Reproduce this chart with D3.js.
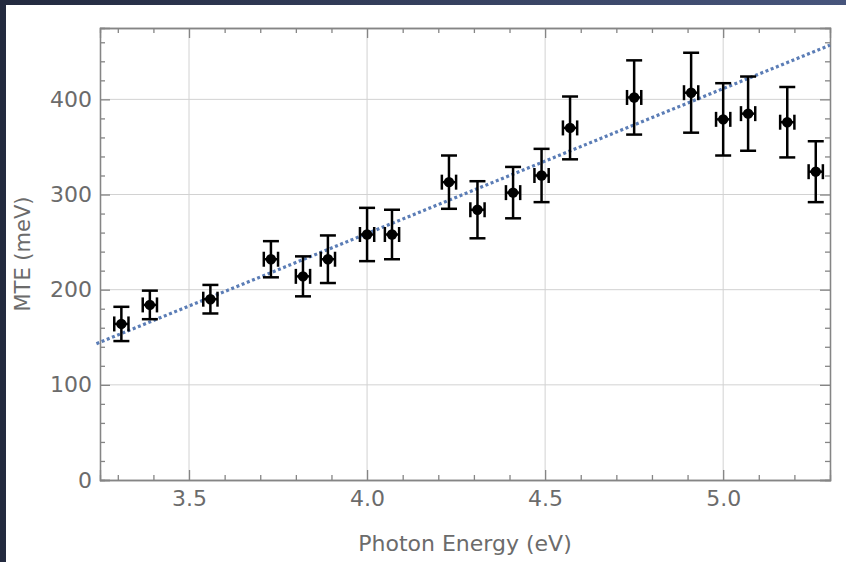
<!DOCTYPE html>
<html>
<head>
<meta charset="utf-8">
<script src="https://cdn.jsdelivr.net/npm/d3@7"></script>
<style>
    html, body { margin: 0; padding: 0; }
    body {
        width: 846px;
        height: 562px;
        overflow: hidden;
        background: linear-gradient(to right, #232a3f, #47557c);
        position: relative;
    }
    #panel {
        position: absolute;
        left: 6px;
        top: 5px;
        right: 0;
        bottom: 0;
        background: #ffffff;
    }
    #mte-chart {
        position: absolute;
        left: 0;
        top: 0;
    }
</style>
</head>
<body>
<div id="panel"></div>
<div id="mte-chart"></div>
<script>
// photon energy (eV), measured MTE (meV) and error bars
const photonEnergy = [3.31, 3.39, 3.56, 3.73, 3.82, 3.89, 4.00, 4.07, 4.23, 4.31, 4.41, 4.49, 4.57, 4.75, 4.91, 5.00, 5.07, 5.18, 5.26];
const mte = [164, 184, 190, 232, 214, 232, 258, 258, 313, 284, 302, 320, 370, 402, 407, 379, 385, 376, 324];
const mteError = [18, 15, 15, 19, 21, 25, 28, 26, 28, 30, 27, 28, 33, 39, 42, 38, 39, 37, 32];
const energyError = [0.02, 0.02, 0.02, 0.02, 0.02, 0.02, 0.02, 0.02, 0.02, 0.02, 0.02, 0.02, 0.02, 0.02, 0.02, 0.02, 0.02, 0.02, 0.02];

// linear fit MTE = slope * E + intercept
const fitSlope = 152.3;
const fitIntercept = -350.2;
const fitRange = [3.24, 5.30];

const xMajorTicks = [3.5, 4.0, 4.5, 5.0];
const xMinorTicks = [3.3, 3.4, 3.6, 3.7, 3.8, 3.9, 4.1, 4.2, 4.3, 4.4, 4.6, 4.7, 4.8, 4.9, 5.1, 5.2];
const yMajorTicks = [0, 100, 200, 300, 400];
const yMinorTicks = [20, 40, 60, 80, 120, 140, 160, 180, 220, 240, 260, 280, 320, 340, 360, 380, 420, 440, 460];

const xLabel = "Photon Energy (eV)";
const yLabel = "MTE (meV)";

(() => {
    const width = 846;
    const height = 562;
    const margin = { top: 28, right: 16, bottom: 82, left: 100 };
    const innerW = width - margin.left - margin.right;
    const innerH = height - margin.top - margin.bottom;

    const axisGray = "#858585";
    const textGray = "#6b6b6b";
    const font = "DejaVu Sans, sans-serif";

    const svg = d3.select("#mte-chart")
        .append("svg")
        .attr("width", width)
        .attr("height", height)
        .append("g")
        .attr("transform", `translate(${margin.left}, ${margin.top})`);

    const xScale = d3.scaleLinear().domain([3.25, 5.30]).range([0, innerW]);
    const yScale = d3.scaleLinear().domain([0, 475]).range([innerH, 0]);

    // grid
    svg.append("g")
        .selectAll("line")
        .data(xMajorTicks)
        .join("line")
        .attr("x1", d => xScale(d))
        .attr("x2", d => xScale(d))
        .attr("y1", 0)
        .attr("y2", innerH)
        .attr("stroke", "#d2d2d2")
        .attr("stroke-width", 1);

    svg.append("g")
        .selectAll("line")
        .data(yMajorTicks.filter(d => d > 0))
        .join("line")
        .attr("x1", 0)
        .attr("x2", innerW)
        .attr("y1", d => yScale(d))
        .attr("y2", d => yScale(d))
        .attr("stroke", "#d2d2d2")
        .attr("stroke-width", 1);

    // frame axes: major + minor ticks pointing inward on all four sides
    const styleAxis = g => {
        g.selectAll("path, line").attr("stroke", axisGray).attr("stroke-width", 1.3);
        g.selectAll("text")
            .attr("fill", textGray)
            .style("font-family", font)
            .style("font-size", "22px");
    };

    const addAxis = (axisFn, scale, transform, major, minor, labelled, padding) => {
        svg.append("g")
            .attr("transform", transform)
            .call(axisFn(scale).tickValues(minor).tickSize(-5).tickFormat(""))
            .call(styleAxis);
        svg.append("g")
            .attr("transform", transform)
            .call(axisFn(scale)
                .tickValues(major)
                .tickSize(-10)
                .tickPadding(padding)
                .tickFormat(labelled ? (scale === xScale ? d3.format(".1f") : d3.format("d")) : ""))
            .call(styleAxis);
    };

    addAxis(d3.axisBottom, xScale, `translate(0, ${innerH})`, xMajorTicks, xMinorTicks, true, 10);
    addAxis(d3.axisTop, xScale, "translate(0, 0)", xMajorTicks, xMinorTicks, false, 0);
    addAxis(d3.axisLeft, yScale, "translate(0, 0)", yMajorTicks, yMinorTicks, true, 8);
    addAxis(d3.axisRight, yScale, `translate(${innerW}, 0)`, yMajorTicks, yMinorTicks, false, 0);

    // fit line
    svg.append("path")
        .datum(fitRange)
        .attr("fill", "none")
        .attr("stroke", "#5b7db6")
        .attr("stroke-width", 3.2)
        .attr("stroke-dasharray", "3 2.6")
        .attr("d", d3.line()
            .x(d => xScale(d))
            .y(d => yScale(fitSlope * d + fitIntercept)));

    // error bars and points
    const points = photonEnergy.map((e, i) => ({
        x: e, y: mte[i], dy: mteError[i], dx: energyError[i]
    }));

    const capV = 8;
    const capH = 7.5;
    const bars = svg.append("g")
        .attr("stroke", "#000")
        .attr("stroke-width", 2.5)
        .attr("fill", "none");

    points.forEach(p => {
        const cx = xScale(p.x);
        const cy = yScale(p.y);
        const yTop = yScale(p.y + p.dy);
        const yBot = yScale(p.y - p.dy);
        const xL = xScale(p.x - p.dx);
        const xR = xScale(p.x + p.dx);

        bars.append("line").attr("x1", cx).attr("x2", cx).attr("y1", yTop).attr("y2", yBot);
        bars.append("line").attr("x1", cx - capV).attr("x2", cx + capV).attr("y1", yTop).attr("y2", yTop);
        bars.append("line").attr("x1", cx - capV).attr("x2", cx + capV).attr("y1", yBot).attr("y2", yBot);

        bars.append("line").attr("x1", xL).attr("x2", xR).attr("y1", cy).attr("y2", cy);
        bars.append("line").attr("x1", xL).attr("x2", xL).attr("y1", cy - capH).attr("y2", cy + capH);
        bars.append("line").attr("x1", xR).attr("x2", xR).attr("y1", cy - capH).attr("y2", cy + capH);
    });

    svg.append("g")
        .selectAll("circle")
        .data(points)
        .join("circle")
        .attr("cx", d => xScale(d.x))
        .attr("cy", d => yScale(d.y))
        .attr("r", 5.2)
        .attr("fill", "#000");

    // axis titles
    svg.append("text")
        .attr("x", innerW / 2)
        .attr("y", innerH + 71)
        .attr("text-anchor", "middle")
        .attr("fill", textGray)
        .style("font-family", font)
        .style("font-size", "22px")
        .text(xLabel);

    svg.append("text")
        .attr("transform", `translate(${-margin.left + 30}, ${innerH / 2}) rotate(-90)`)
        .attr("text-anchor", "middle")
        .attr("fill", textGray)
        .style("font-family", font)
        .style("font-size", "21px")
        .text(yLabel);
})();
</script>
</body>
</html>
